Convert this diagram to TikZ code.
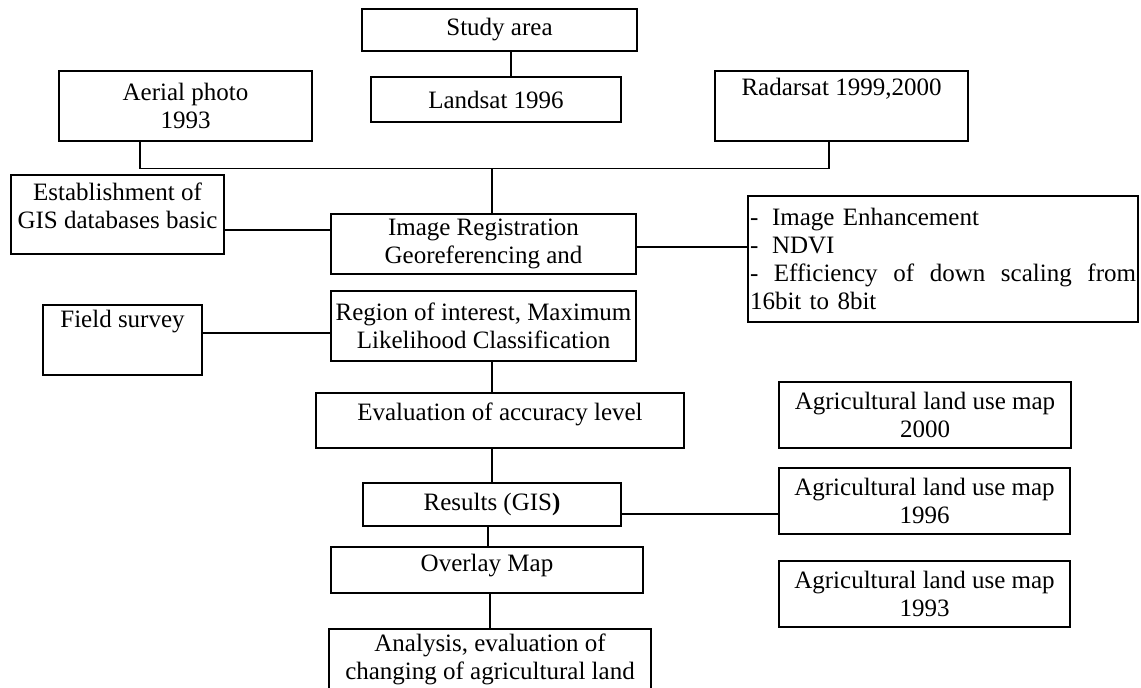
\documentclass[tikz,border=0pt]{standalone}
\usepackage{fontspec}
\setmainfont{Liberation Serif}
\usetikzlibrary{calc}

\tikzstyle{box}=[draw,line width=0.7pt,rectangle,inner sep=1pt,align=center,font=\fontsize{12.5}{14}\selectfont]
\tikzstyle{listbox}=[box,align=left,text width=193pt]
\tikzstyle{edge}=[draw,line width=0.7pt,-]
\newcommand{\pxunit}{0.5pt}

\begin{document}
\begin{tikzpicture}[x=\pxunit, y=-\pxunit]
    \useasboundingbox (0,0) rectangle (1141,687);
    % First we draw the boxes
    \foreach \pos/\name/\w/\h/\txt in {
        {(499.5,30)/study/275/42/{Study area}},
        {(496,99.5)/landsat/250/45/{Landsat 1996}},
        {(185.5,106)/aerial/253/70/{Aerial photo\\1993}},
        {(841.5,106)/radarsat/253/70/{Radarsat 1999,2000\\[5.5pt]\mbox{}}},
        {(117.5,214.5)/estab/213/79/{Establishment of\\GIS databases basic\\[-5pt]\mbox{}}},
        {(483.5,244)/imgreg/305/60/{Image Registration\\Georeferencing and}},
        {(483.5,326)/region/305/70/{Region of interest, Maximum\\Likelihood Classification}},
        {(122.5,340)/field/159/70/{Field survey\\[7.5pt]\mbox{}}},
        {(500,420.5)/eval/368/55/{Evaluation of accuracy level\\[-5pt]\mbox{}}},
        {(492,504.5)/results/258/43/{Results (GIS\textbf{)}}},
        {(487,570)/overlay/312/46/{Overlay Map\\[-6.5pt]\mbox{}}},
        {(490,659)/analysis/322/60/{Analysis, evaluation of\\changing of agricultural land}},
        {(925,415)/agri00/292/66/{Agricultural land use map\\2000}},
        {(924.5,501)/agri96/291/66/{Agricultural land use map\\1996}},
        {(924.5,594)/agri93/291/66/{Agricultural land use map\\1993}}}
        \node[box, minimum width=\w*\pxunit, minimum height=\h*\pxunit] (\name) at \pos {\txt};
    \node[listbox, minimum height=126*\pxunit] (enhance) at (943,259)
        {-\hspace{0.55em}Image Enhancement\\
         -\hspace{0.55em}NDVI\\
         \makebox[193pt][s]{-\hfill Efficiency\hfill of\hfill down\hfill scaling\hfill from}\\
         16bit to 8bit};
    % Then we connect the boxes
    \coordinate (spine) at (492,0);
    \path[edge] ($(study.south)+(11.5,0)$) coordinate (s) -- (s |- landsat.north);
    \path[edge] ($(aerial.south)+(-45.5,0)$) -- ++(0,27) coordinate (bus) -| ($(radarsat.south)+(-12.5,0)$);
    \path[edge] (spine |- bus) -- (spine |- imgreg.north);
    \path[edge] ($(estab.east)+(0,15.5)$) coordinate (e) -- (e -| imgreg.west);
    \path[edge] ($(imgreg.east)+(0,3)$) coordinate (g) -- (g -| enhance.west);
    \path[edge] ($(field.east)+(0,-7)$) coordinate (f) -- (f -| region.west);
    \path[edge] (spine |- region.south) -- (spine |- eval.north);
    \path[edge] (spine |- eval.south) -- (spine |- results.north);
    \path[edge] ($(results.east)+(0,9.5)$) coordinate (r) -- (r -| agri96.west);
    \path[edge] ($(results.south)+(-4,0)$) coordinate (o) -- (o |- overlay.north);
    \path[edge] ($(overlay.south)+(3,0)$) coordinate (a) -- (a |- analysis.north);
\end{tikzpicture}
\end{document}
